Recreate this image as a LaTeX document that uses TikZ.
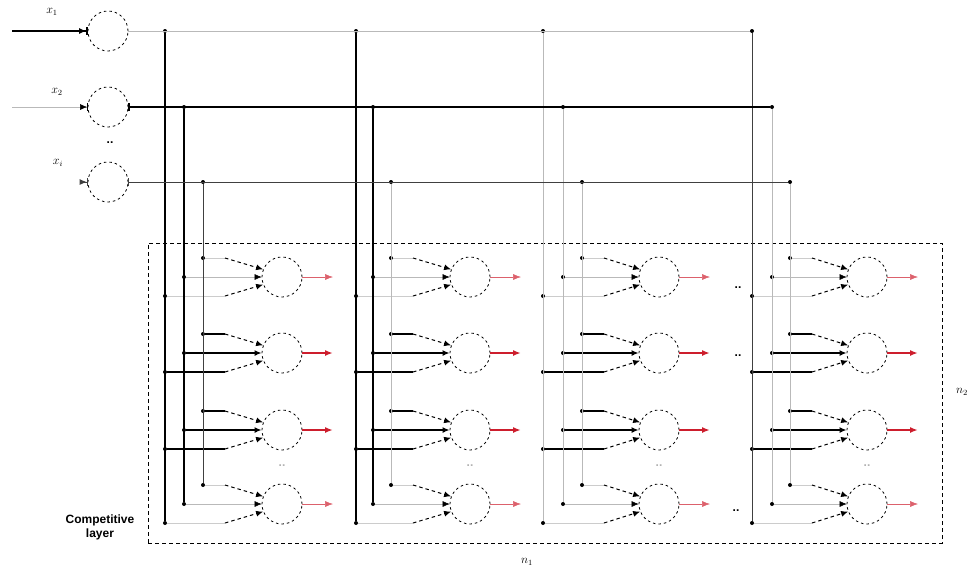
\documentclass[tikz,border=0pt]{standalone}
\usepackage{fontspec}
\setmainfont{Liberation Sans}
\usetikzlibrary{arrows.meta,positioning}
\definecolor{outRed}{RGB}{205,30,45}

\begin{document}
\begin{tikzpicture}[x=1pt,y=-1pt,
    neuron/.style={circle, draw, dash pattern=on 2.5pt off 3pt, line width=0.8pt,
      minimum size=40pt, inner sep=0pt},
    junc/.style={circle, fill, inner sep=0pt, minimum size=4pt},
    heavy/.style={line width=1.4pt},
    mid/.style={line width=0.9pt, black!75},
    light/.style={line width=0.5pt, gray!55},
    feedstrong/.style={line width=1.2pt},
    feedweak/.style={line width=0.4pt, gray!40},
    midstrong/.style={line width=1.4pt, -{Latex[length=7pt,width=6pt]}},
    midweak/.style={line width=0.5pt, gray!55, -{Latex[length=7pt,width=6pt,color=black]}},
    feeddash/.style={line width=1pt, dash pattern=on 3.5pt off 3pt,
      -{Latex[length=7pt,width=6pt]}},
    outstrong/.style={line width=1.8pt, outRed, -{Latex[length=8pt,width=6pt]}},
    outweak/.style={line width=0.5pt, outRed!70, -{Latex[length=8pt,width=6pt]}},
    gap/.style={font=\large\bfseries, inner sep=0pt},
    lbl/.style={font=\large, inner sep=1pt}
  ]
  \useasboundingbox (0,0) rectangle (978,571);

  % input layer
  \node[neuron] (in1) at (108,31) {};
  \node[neuron] (in2) at (108,107) {};
  \node[neuron] (in3) at (108,182) {};
  \coordinate (src1) at (12,31);
  \coordinate (src2) at (12,107);
  \coordinate (src3) at (80,182);
  \draw[heavy, -{Latex[length=7pt,width=6pt]Bar[width=8pt]}] (src1) -- (in1);
  \draw[light, -{Latex[length=7pt,width=6pt,color=black]Bar[width=8pt,color=black]}] (src2) -- (in2);
  \draw[mid, -{Latex[length=7pt,width=6pt]Bar[width=8pt]}] (src3) -- (in3);
  \node[lbl] (lx1) at (52,12) {$x_1$};
  \node[lbl] (lx2) at (57,92) {$x_2$};
  \node[lbl] (lx3) at (58,163) {$x_i$};
  \node[gap] (dx) at (110,143) {..};

  % competitive layer
  \node[draw, dash pattern=on 4pt off 3pt, line width=1pt,
    minimum width=794pt, minimum height=300pt] (layer) at (545,393) {};
  \node[font=\large\bfseries, align=center] (cl) at (100,527) {Competitive\\layer};
  \node[lbl] (n1) at (527,562) {$n_1$};
  \node[lbl] (n2) at (962,392) {$n_2$};

  \foreach \b/\va/\vb/\vc/\nx/\sa/\sb/\sc in
      {1/165/184/203/282/heavy/heavy/mid, 2/356/373/391/470/heavy/heavy/light,
       3/543/563/582/659/light/light/light, 4/752/772/790/867/mid/light/light}{
    \node[junc] (ta\b) at (\va,31) {};
    \node[junc] (tb\b) at (\vb,107) {};
    \node[junc] (tc\b) at (\vc,182) {};
    \foreach \r/\y/\st in {1/277/weak, 2/353/strong, 3/430/strong, 4/504/weak}{
      \node[neuron] (c\b\r) at (\nx,\y) {};
      \node[junc] (ja\b\r) at (\va,{\y+19}) {};
      \node[junc] (jb\b\r) at (\vb,\y) {};
      \node[junc] (jc\b\r) at (\vc,{\y-19}) {};
      \coordinate (fa\b\r) at ({\vc+22},{\y+19});
      \coordinate (fc\b\r) at ({\vc+22},{\y-19});
      \coordinate (o\b\r) at ({\nx+51},\y);
      \draw[feed\st] (jc\b\r) -- (fc\b\r);
      \draw[feed\st] (ja\b\r) -- (fa\b\r);
      \draw[feeddash] (fc\b\r) -- (c\b\r.158);
      \draw[feeddash] (fa\b\r) -- (c\b\r.202);
      \draw[mid\st] (jb\b\r) -- (c\b\r.west);
      \draw[out\st] (c\b\r.east) -- (o\b\r);
    }
    \node[gap, gray!60] (vd\b) at (\nx,466) {..};
    \draw[\sa] (ta\b) -- (ja\b4);
    \draw[\sb] (tb\b) -- (jb\b4);
    \draw[\sc] (tc\b) -- (jc\b4);
  }

  % input buses
  \draw[light] (in1.east) -- (ta4);
  \draw[heavy, {Bar[width=8pt]}-] (in2.east) -- (tb4);
  \draw[mid, {Bar[width=8pt]}-] (in3.east) -- (tc4);

  \node[gap] (g1) at (738,288) {..};
  \node[gap] (g2) at (738,356) {..};
  \node[gap] (g3) at (736,511) {..};
\end{tikzpicture}
\end{document}
